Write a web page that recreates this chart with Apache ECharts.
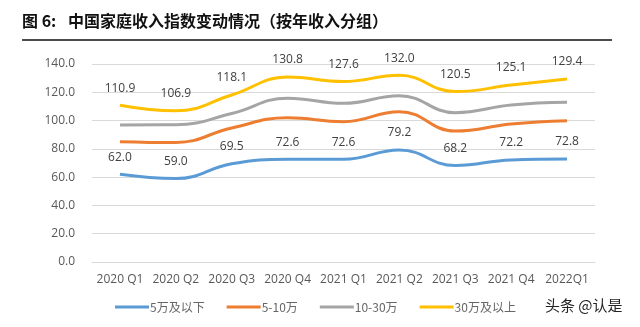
<!DOCTYPE html>
<html>
<head>
<meta charset="utf-8">
<script src="https://cdn.jsdelivr.net/npm/echarts@6/dist/echarts.min.js"></script>
<style>
  html, body { margin: 0; padding: 0; background: #fff; }
  #chart { width: 640px; height: 327px; }
</style>
</head>
<body>
<div id="chart"></div>
<script>
// Quarterly household income index by annual income group
const categories = ['2020 Q1', '2020 Q2', '2020 Q3', '2020 Q4', '2021 Q1', '2021 Q2', '2021 Q3', '2021 Q4', '2022Q1'];
const seriesNames = ['5万及以下', '5-10万', '10-30万', '30万及以上'];
const below5 = [62.0, 59.0, 69.5, 72.6, 72.6, 79.2, 68.2, 72.2, 72.8];
const from5to10 = [85.1, 84.5, 94.8, 102.0, 99.2, 106.3, 92.6, 97.6, 99.9];
const from10to30 = [96.9, 97.0, 105.0, 115.8, 112.2, 117.6, 105.6, 111.0, 112.9];
const above30 = [110.9, 106.9, 118.1, 130.8, 127.6, 132.0, 120.5, 125.1, 129.4];
const colors = ['#5B9BD5', '#ED7D31', '#A5A5A5', '#FFC000'];
const labelled = [true, false, false, true];

const chart = echarts.init(document.getElementById('chart'));
const allData = [below5, from5to10, from10to30, above30];
const titleFont = { fontFamily: 'Noto Sans CJK SC', fontWeight: 'bold', fontSize: 16, fill: '#111' };

chart.setOption({
  animation: false,
  color: colors,
  graphic: [
    { type: 'text', left: 22, top: 13, style: Object.assign({ text: '图 6:' }, titleFont) },
    { type: 'text', left: 68, top: 13, style: Object.assign({ text: '中国家庭收入指数变动情况（按年收入分组）' }, titleFont) },
    { type: 'line', shape: { x1: 22, y1: 40, x2: 612, y2: 40 }, style: { stroke: '#111', lineWidth: 1.5 } },
    { type: 'text', left: 545, top: 298, style: { text: '头条 @认是', fontFamily: 'Noto Sans CJK SC', fontSize: 15, fill: '#222' } }
  ],
  grid: { left: 92, right: 45, top: 64, bottom: 65 },
  legend: {
    top: 296, left: 110,
    itemWidth: 34, itemHeight: 3, itemGap: 22,
    icon: 'rect',
    textStyle: { fontFamily: 'Noto Sans CJK SC', fontSize: 12, color: '#666666', padding: [0, 0, 0, -4] },
    data: seriesNames
  },
  xAxis: {
    type: 'category',
    data: categories,
    axisLine: { lineStyle: { color: '#D9D9D9' } },
    axisTick: { show: false },
    axisLabel: { interval: 0, fontFamily: 'Open Sans', fontSize: 12, color: '#595959', margin: 12 }
  },
  yAxis: {
    type: 'value', min: 0, max: 140, interval: 20,
    axisLine: { show: false }, axisTick: { show: false },
    splitLine: { lineStyle: { color: '#D9D9D9' } },
    axisLabel: { fontFamily: 'Open Sans', fontSize: 12, color: '#595959', margin: 17, formatter: v => v.toFixed(1) }
  },
  series: seriesNames.map((name, i) => ({
    name, type: 'line', smooth: 0.45,
    symbol: 'circle', symbolSize: 0.1, showSymbol: true,
    data: allData[i],
    lineStyle: { width: 3, color: colors[i] },
    itemStyle: { color: colors[i] },
    label: {
      show: labelled[i], position: 'top', distance: 11,
      fontFamily: 'Open Sans', fontSize: 12, color: '#404040',
      formatter: p => p.value.toFixed(1)
    }
  }))
});
</script>
</body>
</html>
